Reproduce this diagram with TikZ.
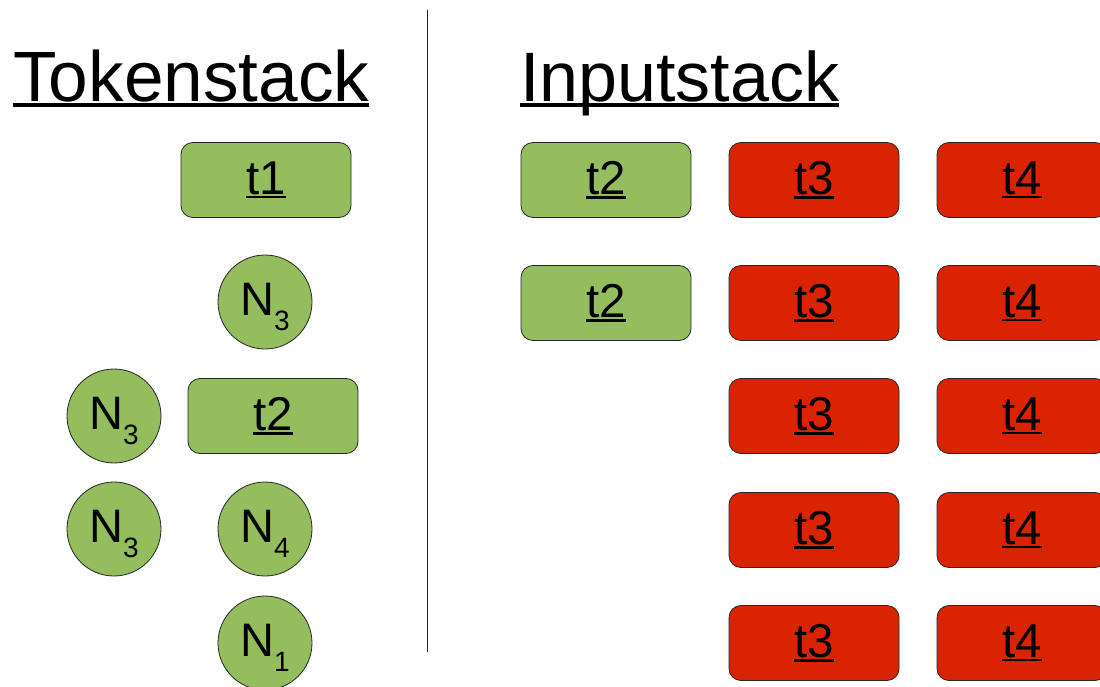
\documentclass[tikz,border=0pt]{standalone}
\usepackage{fontspec}
\setmainfont{Liberation Sans}
\definecolor{boxgreen}{HTML}{94BD5E}
\definecolor{boxred}{HTML}{DA2300}
\newcommand\myul[3]{\setbox0\hbox{#3}\rlap{\rule[-#1]{\wd0}{#2}}\box0}
\newcommand\boxlbl[1]{\fontsize{47.5}{47.5}\selectfont\myul{4pt}{2.3pt}{#1}}
\newcommand\nlbl[1]{\raisebox{-3.5pt}[34pt][15pt]{\fontsize{47}{47}\selectfont N\raisebox{-15pt}{\fontsize{28}{28}\selectfont #1}}}
\tikzset{
  tokbox/.style={draw=black!85, line width=0.8pt, rounded corners=12pt,
    minimum width=170pt, minimum height=75pt, inner sep=0pt},
  greenbox/.style={tokbox, fill=boxgreen},
  redbox/.style={tokbox, fill=boxred},
  ncirc/.style={circle, draw=black!85, line width=0.8pt, fill=boxgreen,
    minimum size=94pt, inner sep=0pt},
  titlelbl/.style={anchor=base west, inner sep=0pt}
}
\begin{document}
\begin{tikzpicture}[x=1pt,y=-1pt]
\useasboundingbox (0,0) rectangle (1100,687);
\begin{scope}
\clip (0,0) rectangle (1100,687);
% titles
\node[titlelbl, font=\fontsize{71.2}{71.2}\selectfont] (tok) at (13,102) {\myul{5pt}{3.5pt}{Tokenstack}};
\node[titlelbl, font=\fontsize{70}{70}\selectfont] (inp) at (520,102) {\myul{5pt}{3.5pt}{Inputstack}};
% divider
\coordinate (dtop) at (427,10);
\coordinate (dbot) at (427,652);
\draw[line width=0.9pt, black!85] (dtop) -- (dbot);
% token stack
\node[greenbox] (t1) at (266,180) {\boxlbl{t1}};
\node[ncirc] (n3a) at (265,302) {\nlbl{3}};
\node[ncirc] (n3b) at (114,416) {\nlbl{3}};
\node[greenbox] (t2l) at (273,416) {\boxlbl{t2}};
\node[ncirc] (n3c) at (114,529) {\nlbl{3}};
\node[ncirc] (n4) at (265,529) {\nlbl{4}};
\node[ncirc] (n1) at (265,643) {\nlbl{1}};
% input stack
\node[greenbox] (t2a) at (606,180) {\boxlbl{t2}};
\node[greenbox] (t2b) at (606,303) {\boxlbl{t2}};
\node[redbox] (t3a) at (814,180) {\boxlbl{t3}};
\node[redbox] (t3b) at (814,303) {\boxlbl{t3}};
\node[redbox] (t3c) at (814,416) {\boxlbl{t3}};
\node[redbox] (t3d) at (814,530) {\boxlbl{t3}};
\node[redbox] (t3e) at (814,643) {\boxlbl{t3}};
\node[redbox] (t4a) at (1022,180) {\boxlbl{t4}};
\node[redbox] (t4b) at (1022,303) {\boxlbl{t4}};
\node[redbox] (t4c) at (1022,416) {\boxlbl{t4}};
\node[redbox] (t4d) at (1022,530) {\boxlbl{t4}};
\node[redbox] (t4e) at (1022,643) {\boxlbl{t4}};
\end{scope}
\end{tikzpicture}
\end{document}
